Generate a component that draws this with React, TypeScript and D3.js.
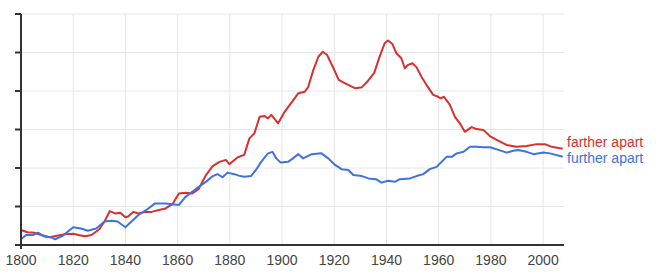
import React from "react";
import * as d3 from "d3";

const fartherYears = [1800, 1802.5, 1805, 1807.7, 1810.9, 1812.8, 1816.7, 1820, 1822, 1824.5, 1827, 1830, 1832, 1834, 1836, 1838, 1840, 1841, 1843, 1845, 1847.7, 1850, 1852.8, 1855.4, 1858, 1860.5, 1863, 1865.6, 1868, 1870.8, 1873.4, 1876, 1878.5, 1879.8, 1883, 1885.5, 1887.5, 1889.4, 1891.4, 1893.3, 1894.6, 1895.9, 1898.5, 1901, 1903.6, 1906.2, 1908.7, 1910, 1912, 1913.9, 1915.6, 1917.2, 1919.7, 1921.7, 1924.2, 1928.1, 1930.6, 1932.6, 1935.3, 1937.3, 1939.3, 1940.6, 1942.3, 1943.8, 1945.7, 1947, 1948.3, 1949.9, 1951.5, 1953.4, 1955.3, 1957.9, 1959.8, 1960.7, 1962, 1964.3, 1966.2, 1968.1, 1970, 1972.6, 1974.5, 1977.1, 1979.6, 1982.2, 1986, 1989.8, 1993.7, 1997.5, 2000.7, 2003.3, 2007.5];
const fartherValues = [0.39, 0.33, 0.32, 0.26, 0.2, 0.23, 0.28, 0.29, 0.26, 0.23, 0.26, 0.41, 0.61, 0.88, 0.82, 0.84, 0.72, 0.74, 0.86, 0.82, 0.86, 0.86, 0.91, 0.95, 1.06, 1.34, 1.36, 1.34, 1.45, 1.81, 2.05, 2.16, 2.21, 2.1, 2.28, 2.34, 2.77, 2.9, 3.33, 3.35, 3.29, 3.38, 3.16, 3.46, 3.7, 3.94, 3.98, 4.1, 4.55, 4.89, 5.02, 4.94, 4.59, 4.29, 4.2, 4.07, 4.1, 4.24, 4.47, 4.88, 5.24, 5.31, 5.22, 4.98, 4.85, 4.59, 4.68, 4.72, 4.62, 4.37, 4.16, 3.9, 3.85, 3.81, 3.85, 3.64, 3.33, 3.16, 2.94, 3.06, 3.01, 2.99, 2.83, 2.73, 2.6, 2.55, 2.57, 2.62, 2.62, 2.55, 2.5];

const furtherYears = [1800, 1802, 1804.5, 1806.5, 1809, 1811.5, 1813, 1816, 1820, 1823, 1825.6, 1828.8, 1832, 1834.6, 1837, 1840, 1842.3, 1845, 1848, 1851.4, 1855.4, 1858, 1860.5, 1863, 1866.9, 1870.8, 1873.5, 1875.3, 1877.2, 1879.1, 1881.7, 1884, 1885.5, 1888.1, 1890, 1892, 1894.6, 1896.3, 1897.8, 1899.5, 1902.3, 1904.2, 1906.2, 1908.1, 1911.3, 1915.1, 1917.7, 1920.3, 1922.8, 1925.4, 1927.3, 1930.6, 1933.1, 1936, 1938.1, 1940.6, 1943.2, 1945.1, 1949, 1951.5, 1954.1, 1956.6, 1959.2, 1961.1, 1963, 1965, 1966.9, 1969.5, 1972, 1974.6, 1977.1, 1979.7, 1982.9, 1986.1, 1988.6, 1990.5, 1993.7, 1996.3, 2000.1, 2002.6, 2007.5];
const furtherValues = [0.15, 0.26, 0.26, 0.32, 0.22, 0.2, 0.15, 0.24, 0.46, 0.43, 0.37, 0.43, 0.61, 0.63, 0.61, 0.46, 0.61, 0.78, 0.91, 1.08, 1.08, 1.06, 1.04, 1.25, 1.45, 1.64, 1.79, 1.84, 1.76, 1.88, 1.84, 1.79, 1.77, 1.79, 1.95, 2.16, 2.38, 2.42, 2.25, 2.14, 2.16, 2.25, 2.36, 2.25, 2.36, 2.38, 2.25, 2.08, 1.97, 1.95, 1.82, 1.79, 1.73, 1.71, 1.62, 1.67, 1.64, 1.71, 1.73, 1.79, 1.84, 1.97, 2.03, 2.16, 2.29, 2.29, 2.38, 2.42, 2.55, 2.55, 2.54, 2.54, 2.47, 2.4, 2.45, 2.47, 2.42, 2.36, 2.4, 2.38, 2.29];

const xTicks = [1800, 1820, 1840, 1860, 1880, 1900, 1920, 1940, 1960, 1980, 2000];
const yTicks = [0, 1, 2, 3, 4, 5, 6];
const seriesNames = ["farther apart", "further apart"];
const seriesColors = ["#d8302f", "#3d72e2"];

export default function App() {
  const W = 658, H = 273;
  const x = d3.scaleLinear().domain([1800, 2008]).range([21, 564]);
  const y = d3.scaleLinear().domain([0, 6]).range([245, 14]);
  const line = d3.line<[number, number]>().x(d => x(d[0])).y(d => y(d[1])).curve(d3.curveLinear);
  const series = [
    fartherYears.map((yr, i) => [yr, fartherValues[i]] as [number, number]),
    furtherYears.map((yr, i) => [yr, furtherValues[i]] as [number, number]),
  ];
  const font = "Arial, 'Liberation Sans', sans-serif";
  return (
    <svg width={W} height={H} style={{ position: "absolute", left: 0, top: 0, background: "#fff" }}>
      {yTicks.map(t => (
        <line key={"gy" + t} x1={x(1800)} x2={x(2008)} y1={y(t)} y2={y(t)} stroke="#e6e6e6" strokeWidth={1} />
      ))}
      {xTicks.map(t => (
        <line key={"gx" + t} x1={x(t)} x2={x(t)} y1={y(6)} y2={y(0)} stroke="#e6e6e6" strokeWidth={1} />
      ))}
      {series.map((s, i) => (
        <path key={"s" + i} d={line(s) || ""} fill="none" stroke={seriesColors[i]} strokeWidth={2} strokeLinejoin="round" />
      ))}
      <line x1={x(1800)} x2={x(1800)} y1={y(6)} y2={y(0) + 4} stroke="#333" strokeWidth={2} />
      <line x1={x(1800) - 1} x2={x(2008)} y1={y(0)} y2={y(0)} stroke="#333" strokeWidth={2} />
      {yTicks.map(t => (
        <line key={"yt" + t} x1={x(1800) - 6} x2={x(1800)} y1={y(t)} y2={y(t)} stroke="#333" strokeWidth={2} />
      ))}
      {xTicks.map(t => (
        <text key={"xl" + t} x={x(t)} y={265} textAnchor="middle" fontFamily={font} fontSize={14} fill="#444">{t}</text>
      ))}
      {seriesNames.map((n, i) => (
        <text key={"lab" + i} x={567} y={i === 0 ? 147 : 163} fontFamily={font} fontSize={14} fill={seriesColors[i]}>{n}</text>
      ))}
    </svg>
  );
}
